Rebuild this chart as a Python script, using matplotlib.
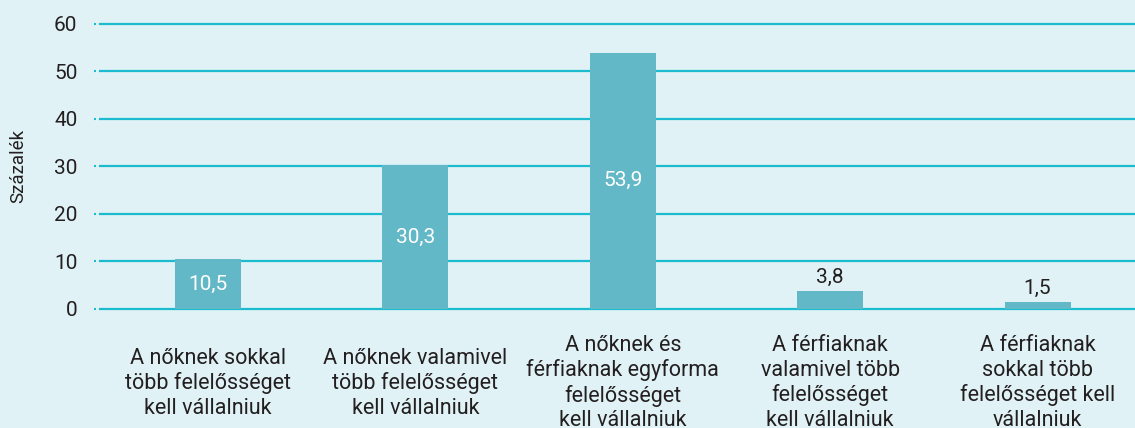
import matplotlib
matplotlib.use("Agg")
import matplotlib.pyplot as plt

categories = [
    "A nőknek sokkal\ntöbb felelősséget\nkell vállalniuk",
    "A nőknek valamivel\ntöbb felelősséget\nkell vállalniuk",
    "A nőknek és\nférfiaknak egyforma\nfelelősséget\nkell vállalniuk",
    "A férfiaknak\nvalamivel több\nfelelősséget\nkell vállalniuk",
    "A férfiaknak\nsokkal több\nfelelősséget kell\nvállalniuk",
]
values = [10.5, 30.3, 53.9, 3.8, 1.5]
value_labels = ["10,5", "30,3", "53,9", "3,8", "1,5"]
yticks = [0, 10, 20, 30, 40, 50, 60]
ylabel = "Százalék"

BG = "#e0f2f6"
BAR = "#63b8c8"
GRID = "#1bbccf"
TXT = "#231f20"

plt.rcParams['font.family'] = ['Roboto', 'DejaVu Sans']

W, H = 1135, 428
fig = plt.figure(figsize=(W / 100, H / 100), dpi=100, facecolor=BG)
left_px, right_px = 94, 1135
top_px, bot_px = 21.8, 310.9
ax = fig.add_axes([left_px / W, (H - bot_px) / H, (right_px - left_px) / W, (bot_px - top_px) / H])
ax.set_facecolor(BG)
for s in ax.spines.values():
    s.set_visible(False)

x = list(range(len(categories)))
ax.set_xlim(-0.5497, 4.4696)
ax.set_ylim(-0.4, 60.4)

gap = 6 / (right_px - left_px)
for t in yticks:
    ax.axhline(t, xmin=gap, xmax=1, color=GRID, lw=1.6, zorder=1)

bars = ax.bar(x, values, width=0.318, color=BAR, zorder=2)

inside = [lab if v > 10 else "" for v, lab in zip(values, value_labels)]
outside = [lab if v <= 10 else "" for v, lab in zip(values, value_labels)]
ax.bar_label(bars, labels=inside, label_type='center', color='white', fontsize=15)
ax.bar_label(bars, labels=outside, label_type='edge', padding=3, color=TXT, fontsize=15)

ax.set_yticks(yticks)
ax.set_yticklabels([str(t) for t in yticks], fontsize=15, color=TXT)
ax.tick_params(axis='y', direction='in', length=1.5, width=1.5, color=GRID, pad=12)

ax.set_xticks(x)
ax.set_xticklabels(categories, fontsize=15.5, color=TXT, linespacing=1.21)
ax.tick_params(axis='x', length=0, pad=52)
for lab in ax.get_xticklabels():
    lab.set_verticalalignment('center')

ax.set_ylabel(ylabel, fontsize=13.5, color=TXT)
ax.yaxis.set_label_coords((18 - left_px) / (right_px - left_px), 0.5)
ax.yaxis.label.set_verticalalignment('center')

fig.savefig("out.png", dpi=100, facecolor=BG)
